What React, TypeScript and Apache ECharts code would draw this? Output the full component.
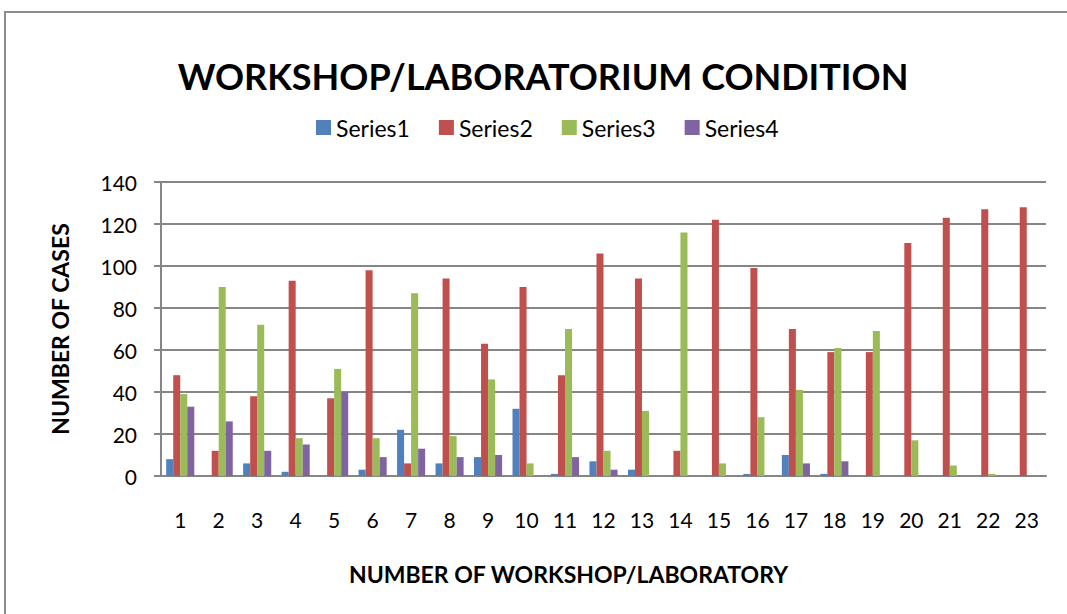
import React, { useEffect, useRef } from "react";
import * as echarts from "echarts";

const categories = ["1","2","3","4","5","6","7","8","9","10","11","12","13","14","15","16","17","18","19","20","21","22","23"];
const series1 = [8, 0, 6, 2, 0, 3, 22, 6, 9, 32, 1, 7, 3, 0, 0, 1, 10, 1, 0, 0, 0, 0, 0];
const series2 = [48, 12, 38, 93, 37, 98, 6, 94, 63, 90, 48, 106, 94, 12, 122, 99, 70, 59, 59, 111, 123, 127, 128];
const series3 = [39, 90, 72, 18, 51, 18, 87, 19, 46, 6, 70, 12, 31, 116, 6, 28, 41, 61, 69, 17, 5, 1, 0];
const series4 = [33, 26, 12, 15, 40, 9, 13, 9, 10, 0, 9, 3, 0, 0, 0, 0, 6, 7, 0, 0, 0, 0, 0];
const seriesNames = ["Series1", "Series2", "Series3", "Series4"];
const colors = ["#4F81BD", "#C0504D", "#9BBB59", "#8064A2"];
const yTicks = { min: 0, max: 140, interval: 20 };

const FONT = "Lato, 'Open Sans', sans-serif";

export default function App() {
  const ref = useRef<HTMLDivElement>(null);
  useEffect(() => {
    if (!ref.current) return;
    const chart = echarts.init(ref.current, null, { renderer: "svg" });
    const data = [series1, series2, series3, series4];
    chart.setOption({
      animation: false,
      backgroundColor: "#ffffff",
      textStyle: { fontFamily: FONT },
      title: {
        text: "WORKSHOP/LABORATORIUM CONDITION",
        left: 538,
        textAlign: "center",
        top: 53,
        textStyle: { fontSize: 36, fontWeight: "bold", color: "#000", fontFamily: FONT },
      },
      legend: {
        data: seriesNames,
        top: 111,
        left: 311,
        itemWidth: 15,
        itemHeight: 15,
        itemGap: 29,
        icon: "rect",
        textStyle: { fontSize: 23, color: "#000", fontFamily: FONT },
      },
      graphic: [
        {
          type: "rect",
          shape: { x: 5, y: 12, width: 1100, height: 700 },
          style: { fill: "none", stroke: "#8c8c8c", lineWidth: 2 },
          silent: true,
        },
      ],
      grid: { left: 161, right: 21, top: 182, bottom: 138, containLabel: false },
      xAxis: {
        type: "category",
        data: categories,
        name: "NUMBER OF WORKSHOP/LABORATORY",
        nameLocation: "middle",
        nameGap: 86,
        nameTextStyle: { fontSize: 23, fontWeight: "bold", color: "#000", fontFamily: FONT, padding: [0, 70, 0, 0] },
        axisLine: { lineStyle: { color: "#868686", width: 2 } },
        axisTick: { show: false },
        axisLabel: { fontSize: 21, color: "#000", margin: 33, fontFamily: FONT },
      },
      yAxis: {
        type: "value",
        min: yTicks.min,
        max: yTicks.max,
        interval: yTicks.interval,
        name: "NUMBER OF CASES",
        nameLocation: "middle",
        nameGap: 90,
        nameTextStyle: { fontSize: 23, fontWeight: "bold", color: "#000", fontFamily: FONT },
        axisLine: { show: true, lineStyle: { color: "#868686", width: 2 } },
        axisTick: { show: true, length: 7, lineStyle: { color: "#868686", width: 2 } },
        axisLabel: { fontSize: 21, color: "#000", margin: 24, fontFamily: FONT },
        splitLine: { lineStyle: { color: "#868686", width: 2 } },
      },
      series: data.map((d, i) => ({
        name: seriesNames[i],
        type: "bar",
        data: d,
        barGap: "0%",
        barCategoryGap: "27%",
        itemStyle: { color: colors[i] },
      })),
    });
    return () => chart.dispose();
  }, []);
  return (
    <div
      ref={ref}
      style={{ position: "absolute", left: 0, top: 0, width: 1067, height: 614 }}
    />
  );
}
